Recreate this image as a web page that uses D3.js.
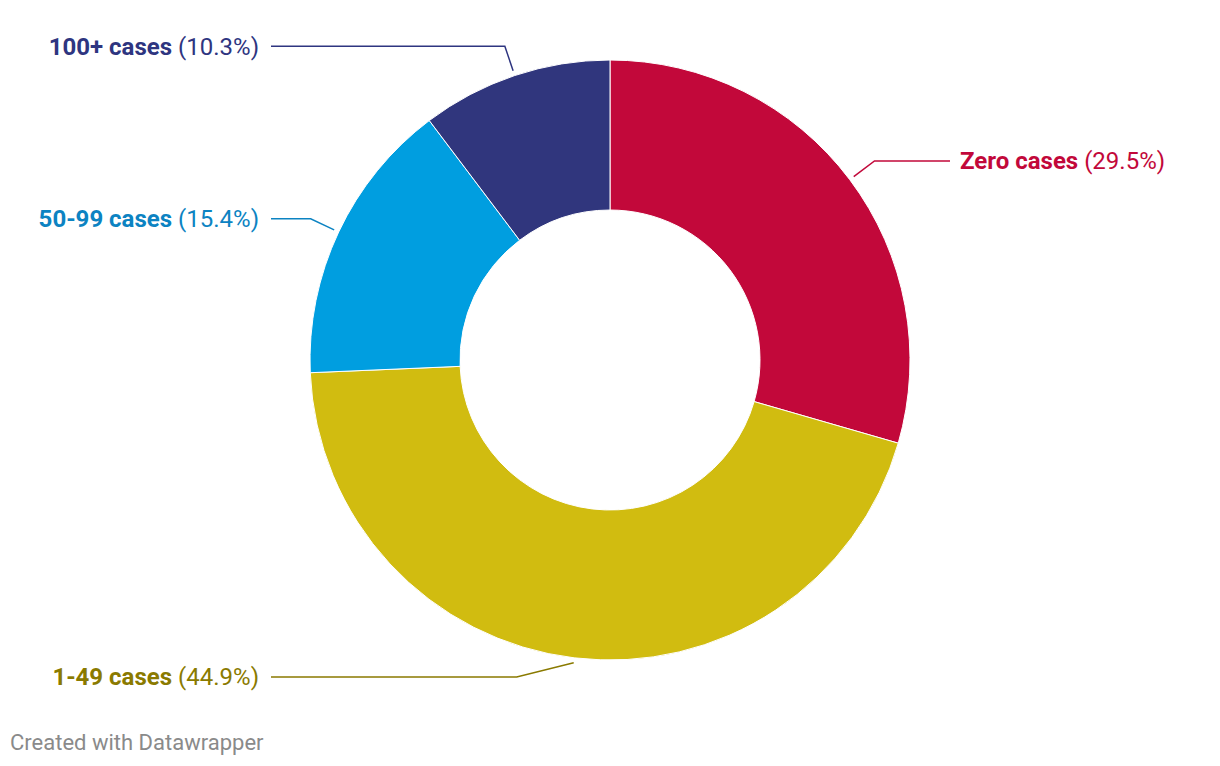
<!DOCTYPE html>
<html><head><meta charset="utf-8">
<script src="https://cdn.jsdelivr.net/npm/d3@7"></script>
<style>
body{margin:0;background:#fff;}
svg{display:block;font-family:Roboto, "Open Sans", sans-serif;}
</style></head>
<body>
<svg id="chart" width="1220" height="766"></svg>
<script>
const categories = ["Zero cases", "1-49 cases", "50-99 cases", "100+ cases"];
const values = [29.5, 44.9, 15.4, 10.3];
const sliceColors = ["#c2083a", "#d1bc10", "#009ee0", "#30367d"];
const labelColors = ["#c2083a", "#8a7a00", "#0c83c2", "#2e3580"];
const footer = "Created with Datawrapper";

const svg = d3.select("#chart");
const cx = 610, cy = 360, R = 300, r0 = 150;
const data = categories.map((c, i) => ({name: c, value: values[i], color: sliceColors[i], lc: labelColors[i]}));

const pie = d3.pie().value(d => d.value).sort(null);
const arcs = pie(data);
const arc = d3.arc().innerRadius(r0).outerRadius(R);

const g = svg.append("g").attr("transform", `translate(${cx},${cy})`);
g.selectAll("path.slice").data(arcs).join("path")
  .attr("class", "slice")
  .attr("d", arc)
  .attr("fill", d => d.data.color)
  .attr("stroke", "#fff").attr("stroke-width", 1);

const minY = 46 - cy, maxY = 677 - cy;
arcs.forEach(a => {
  const m = (a.startAngle + a.endAngle) / 2;
  const s = Math.sin(m), c = -Math.cos(m);
  const p0 = [s * (R + 5), c * (R + 5)];
  let p1 = [s * (R + 31), c * (R + 31)];
  let ly = p1[1];
  if (ly > maxY) { ly = maxY; p1 = [p0[0] - 57, ly]; }
  if (ly < minY) { ly = minY; p1 = [p1[0], ly]; }
  const left = s < 0;
  const lineEnd = left ? 271 - cx : 950 - cx;
  const textX = left ? 259 - cx : 960 - cx;
  g.append("path")
    .attr("d", d3.line()([p0, p1, [lineEnd, ly]]))
    .attr("fill", "none").attr("stroke", a.data.lc).attr("stroke-width", 1.5);
  const t = g.append("text")
    .attr("x", textX).attr("y", ly)
    .attr("dy", "0.35em")
    .attr("text-anchor", left ? "end" : "start")
    .attr("font-size", 24)
    .attr("fill", a.data.lc);
  t.append("tspan").attr("font-weight", 700).text(a.data.name + " ");
  t.append("tspan").attr("font-weight", 400).text("(" + d3.format(".1f")(a.data.value) + "%)");
});

svg.append("text").attr("x", 10).attr("y", 750)
  .attr("font-size", 22).attr("fill", "#8a8a8a").text(footer);
</script>
</body></html>
